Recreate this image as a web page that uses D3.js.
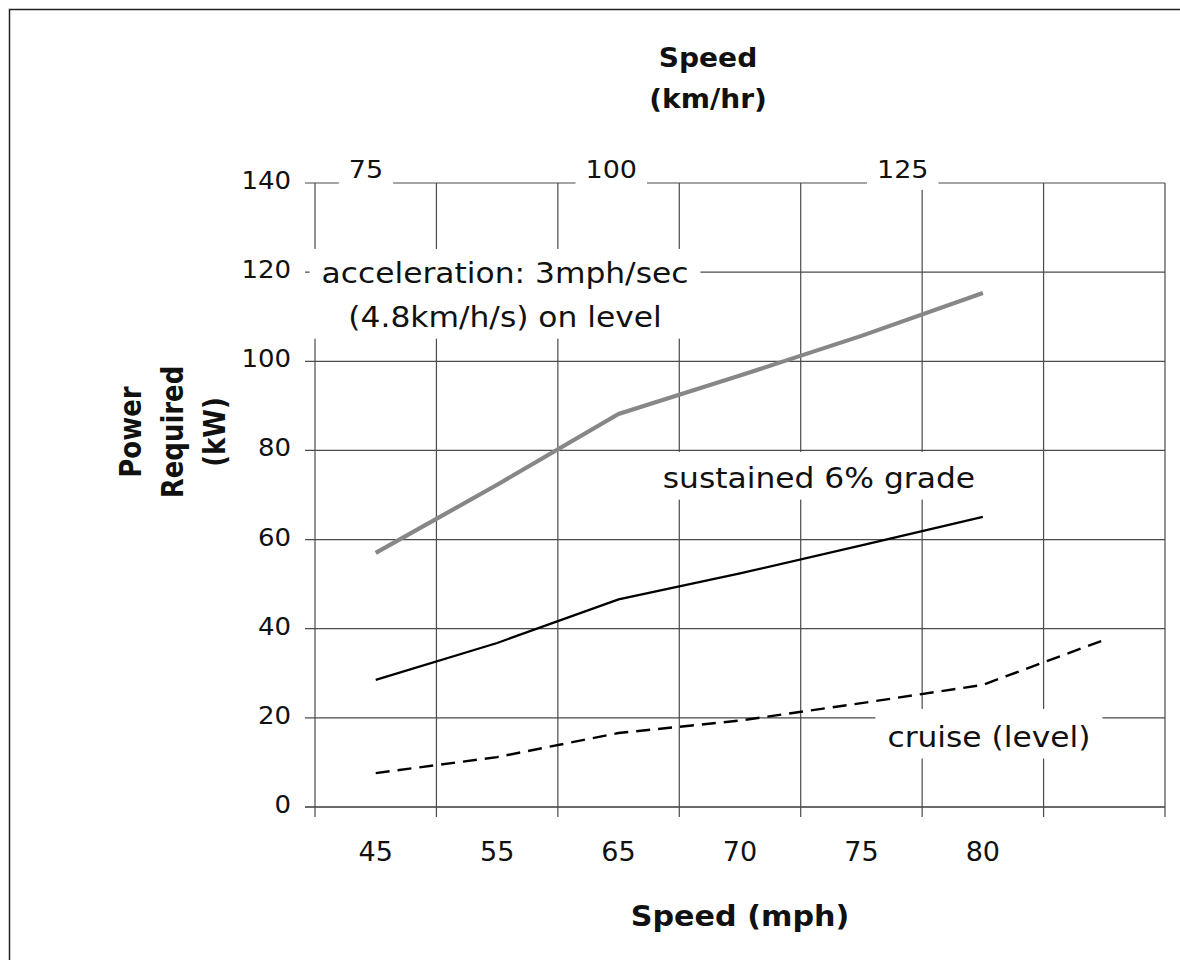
<!DOCTYPE html>
<html>
<head>
<meta charset="utf-8">
<script src="https://cdn.jsdelivr.net/npm/d3@7"></script>
<style>
  body { margin: 0; background: #fff; }
  svg text { font-family: "DejaVu Sans", Verdana, sans-serif; fill: #111; }
</style>
</head>
<body>
<div id="chart"></div>
<script>
// bottom axis categories (mph); the last slot has no label
const mphLabels = ["45", "55", "65", "70", "75", "80", ""];
// top edge km/hr labels and the category slot they sit over
const kmhLabels = ["75", "100", "125"];
const kmhSlot = [-0.08, 1.94, 4.34];
const yTicks = [0, 20, 40, 60, 80, 100, 120, 140];

// power required (kW) per speed category
const accelKW = [57.0, 72.3, 88.2, 96.8, 105.7, 115.3, null];
const gradeKW = [28.5, 36.8, 46.6, 52.4, 58.7, 65.1, null];
const cruiseKW = [7.6, 11.2, 16.6, 19.4, 23.3, 27.4, 37.5];

const W = 1180, H = 960;
const plotL = 315, plotR = 1165, plotT = 183, plotB = 807;

const svg = d3.select('#chart').append('svg').attr('width', W).attr('height', H);

// outer frame (only top/left edges fall inside the picture)
svg.append('rect')
  .attr('x', 9.5).attr('y', 9.5).attr('width', 1300).attr('height', 1100)
  .attr('fill', 'none').attr('stroke', '#222').attr('stroke-width', 1.5);

const x = d3.scaleBand().domain(d3.range(mphLabels.length)).range([plotL, plotR]).padding(0);
// slot scale: category index -> band centre
const xs = d3.scaleLinear().domain([-0.5, mphLabels.length - 0.5]).range([plotL, plotR]);
const y = d3.scaleLinear().domain([0, 140]).range([plotB, plotT]);

const gGrid = svg.append('g');
const gBoxes = svg.append('g');
const gLines = svg.append('g');
const gText = svg.append('g');

const gridColor = '#4a4a4a';

// horizontal grid + left ticks
gGrid.selectAll('line.h').data(yTicks).enter().append('line')
  .attr('x1', plotL - 10).attr('x2', plotR)
  .attr('y1', d => y(d)).attr('y2', d => y(d))
  .attr('stroke', d => d === 0 ? '#6a6a6a' : gridColor)
  .attr('stroke-width', d => d === 0 ? 2 : 1.2);

// vertical grid at band edges, extending below the axis as ticks
const edges = mphLabels.map((d, i) => x(i)).concat([plotR]);
gGrid.selectAll('line.v').data(edges).enter().append('line')
  .attr('x1', d => d).attr('x2', d => d)
  .attr('y1', plotT).attr('y2', plotB + 10)
  .attr('stroke', gridColor).attr('stroke-width', 1.2);

// tick labels
gText.selectAll('text.yt').data(yTicks).enter().append('text')
  .attr('transform', d => `translate(${plotL - 24},${y(d) + 6}) scale(1.04,1)`)
  .attr('text-anchor', 'end').attr('font-size', 25)
  .text(d => d);

gText.selectAll('text.xt').data(mphLabels).enter().append('text')
  .attr('transform', (d, i) => `translate(${x(i) + x.bandwidth() / 2},861) scale(1.04,1)`)
  .attr('text-anchor', 'middle').attr('font-size', 26)
  .text(d => d);

// text helper with slight horizontal stretch; optional white box behind
function label(lines, cx, baselines, size, opts = {}) {
  const sx = opts.sx || 1.08;
  const nodes = lines.map((s, i) => gText.append('text')
    .attr('transform', `translate(${cx},${baselines[i]}) scale(${sx},1)`)
    .attr('text-anchor', 'middle')
    .attr('font-size', size)
    .attr('font-weight', opts.bold ? 'bold' : null)
    .text(s).node());
  if (opts.box) {
    let x0 = Infinity, y0 = Infinity, x1 = -Infinity, y1 = -Infinity;
    nodes.forEach(n => {
      const b = n.getBoundingClientRect();
      x0 = Math.min(x0, b.left); y0 = Math.min(y0, b.top);
      x1 = Math.max(x1, b.right); y1 = Math.max(y1, b.bottom);
    });
    const p = opts.box;
    gBoxes.append('rect')
      .attr('x', x0 - p[0]).attr('y', y0 - p[1])
      .attr('width', x1 - x0 + 2 * p[0]).attr('height', y1 - y0 + p[1] + p[2])
      .attr('fill', '#fff');
  }
  return nodes;
}

// km/hr labels on top edge
kmhLabels.forEach((k, i) => {
  label([k], xs(kmhSlot[i]), [y(141.1)], 25, { box: [10, 2, 6] });
});

// series annotations
label(['acceleration: 3mph/sec', '(4.8km/h/s) on level'], xs(1.065), [y(117.6), y(107.7)], 29, { box: [12, 7, 5] });
label(['sustained 6% grade'], xs(3.65), [y(71.6)], 29, { box: [12, 9, 5] });
label(['cruise (level)'], xs(5.05), [y(13.5)], 29, { box: [12, 11, 5] });

// titles
label(['Speed', '(km/hr)'], 708, [67, 108], 27, { bold: true, sx: 1.04 });
label(['Speed (mph)'], 740, [926], 28.5, { bold: true, sx: 1.06 });

// rotated y title, glyphs widened on screen like the reference
const yt = gText.append('g').attr('transform', 'translate(0,432) scale(1.18,1) rotate(-90)');
['Power', 'Required', '(kW)'].forEach((s, i) => {
  yt.append('text')
    .attr('x', 0).attr('y', (141 + i * 42) / 1.18)
    .attr('text-anchor', 'middle').attr('font-size', 26).attr('font-weight', 'bold')
    .text(s);
});

// data lines
const line = d3.line()
  .defined(d => d != null)
  .x((d, i) => x(i) + x.bandwidth() / 2)
  .y(d => y(d));

gLines.append('path').attr('d', line(accelKW))
  .attr('fill', 'none').attr('stroke', '#878787').attr('stroke-width', 4.2);
gLines.append('path').attr('d', line(gradeKW))
  .attr('fill', 'none').attr('stroke', '#000').attr('stroke-width', 2.3);
gLines.append('path').attr('d', line(cruiseKW))
  .attr('fill', 'none').attr('stroke', '#000').attr('stroke-width', 2.4)
  .attr('stroke-dasharray', '14,8');
</script>
</body>
</html>
